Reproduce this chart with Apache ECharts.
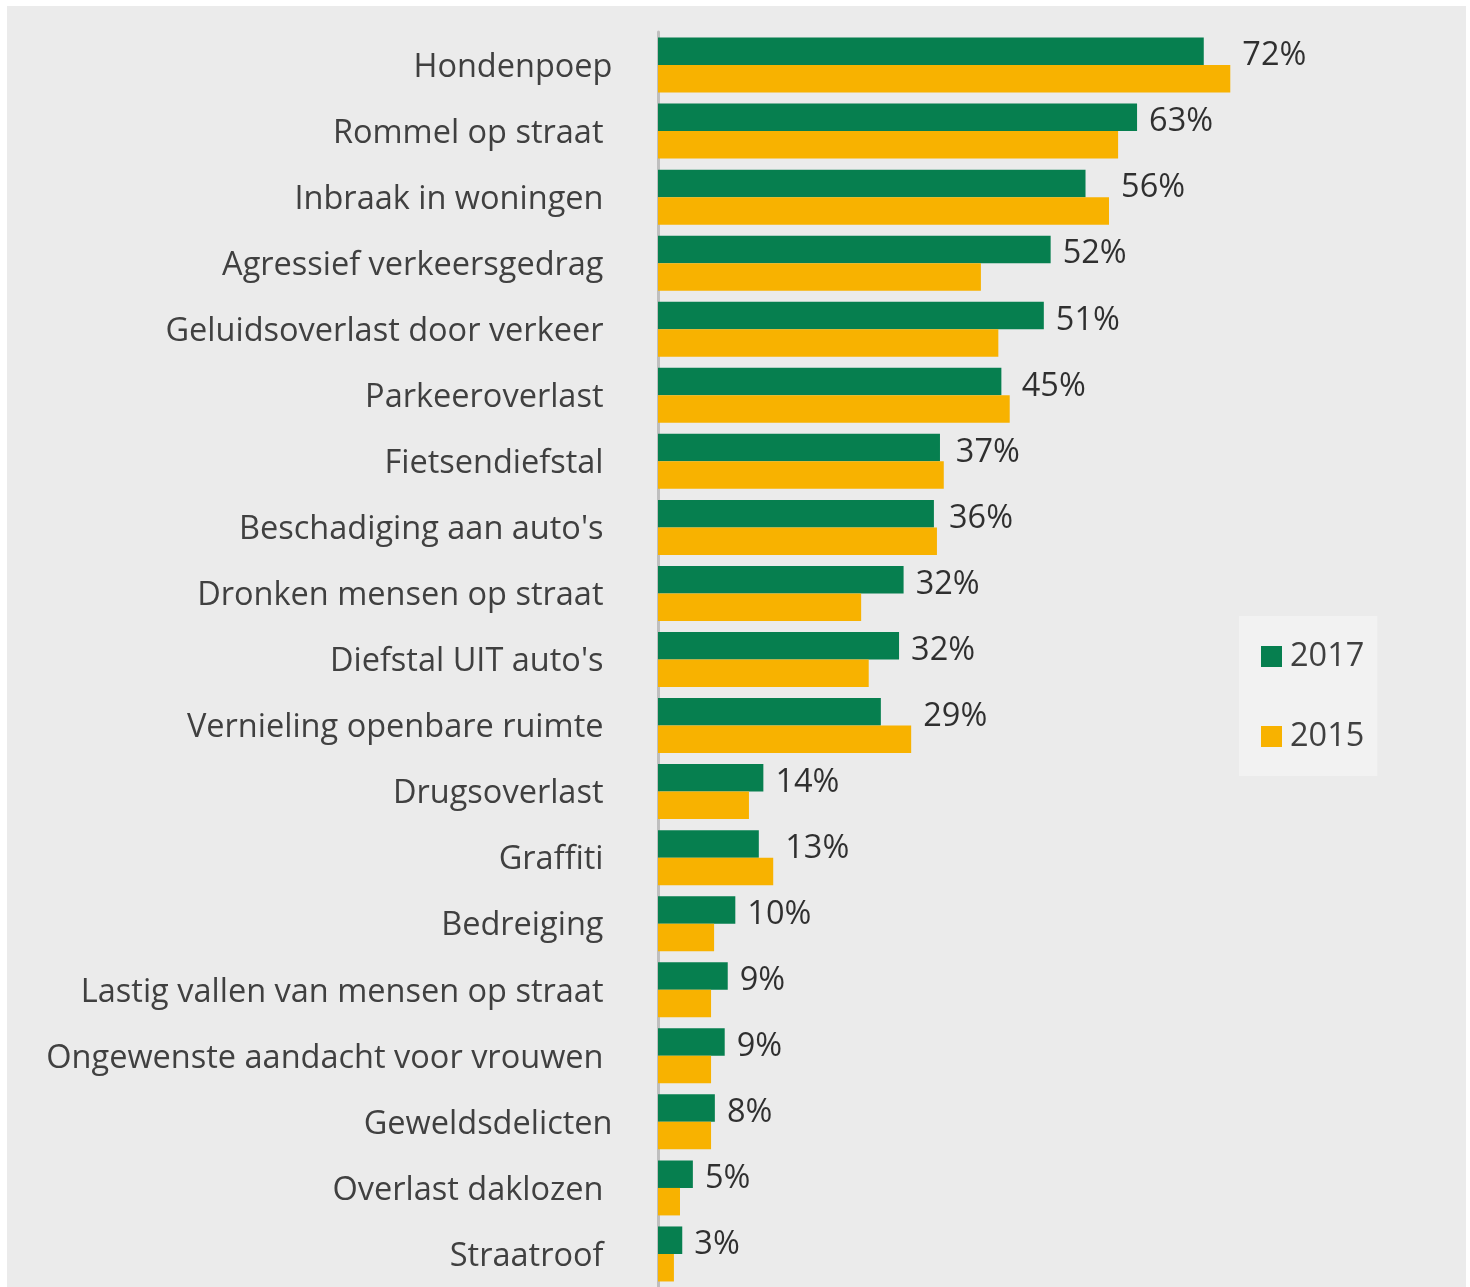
<!DOCTYPE html>
<html>
<head>
<meta charset="utf-8">
<script src="https://cdn.jsdelivr.net/npm/echarts@6/dist/echarts.min.js"></script>
<style>
html,body{margin:0;padding:0;background:#ffffff;}
#chart{width:1470px;height:1287px;}
</style>
</head>
<body>
<div id="chart"></div>
<script>
const categories = [
  'Hondenpoep','Rommel op straat','Inbraak in woningen','Agressief verkeersgedrag',
  'Geluidsoverlast door verkeer','Parkeeroverlast','Fietsendiefstal','Beschadiging aan auto\'s',
  'Dronken mensen op straat','Diefstal UIT auto\'s','Vernieling openbare ruimte','Drugsoverlast',
  'Graffiti','Bedreiging','Lastig vallen van mensen op straat','Ongewenste aandacht voor vrouwen',
  'Geweldsdelicten','Overlast daklozen','Straatroof'
];
const values2017 = [72.0, 63.2, 56.4, 51.8, 50.9, 45.3, 37.2, 36.4, 32.4, 31.8, 29.4, 13.9, 13.3, 10.2, 9.2, 8.8, 7.5, 4.6, 3.2];
const values2015 = [75.5, 60.7, 59.5, 42.6, 44.9, 46.4, 37.7, 36.8, 26.8, 27.8, 33.4, 12.0, 15.2, 7.4, 7.0, 7.0, 7.0, 2.9, 2.1];
const seriesNames = ['2017', '2015'];

const FONT = '"Open Sans", "Noto Sans", sans-serif';
const FS = 32.5;
const shiftedLabels = ['Hondenpoep', 'Geweldsdelicten'];

const chart = echarts.init(document.getElementById('chart'), null, {renderer: 'canvas'});
const labelAnchor = values2017.map((v, i) => [Math.max(v, values2015[i]), i]);

chart.setOption({
  backgroundColor: '#ffffff',
  animation: false,
  graphic: [{
    type: 'rect', z: -10, silent: true,
    shape: {x: 7, y: 6, width: 1459, height: 1281},
    style: {fill: '#ebebeb'}
  }],
  legend: {
    orient: 'vertical',
    left: 1239, top: 616,
    backgroundColor: '#f2f2f2',
    padding: [21, 13, 20, 22],
    itemWidth: 21, itemHeight: 21,
    itemGap: 41,
    icon: 'rect',
    data: seriesNames,
    textStyle: {fontFamily: FONT, fontSize: FS, color: '#404040', lineHeight: 36, padding: [3, 0, 0, 3]}
  },
  grid: {left: 658, top: 32, width: 758, height: 1256, containLabel: false},
  xAxis: {
    type: 'value', min: 0, max: 100, show: false
  },
  yAxis: {
    type: 'category', inverse: true, data: categories,
    offset: 1.5,
    axisLine: {show: true, lineStyle: {color: '#bfbfbf', width: 3}},
    axisTick: {show: false},
    axisLabel: {
      margin: 44,
      fontFamily: FONT, fontSize: FS, color: '#404040',
      formatter: v => shiftedLabels.includes(v) ? '{b|' + v + '}' : '{a|' + v + '}',
      rich: {
        a: {fontFamily: FONT, fontSize: FS, color: '#404040', padding: [5, 9, 0, 0]},
        b: {fontFamily: FONT, fontSize: FS, color: '#404040', padding: [5, 0, 0, 0]}
      }
    }
  },
  series: [
    {
      name: seriesNames[0], type: 'bar', data: values2017,
      barWidth: 27.5, barGap: '0%',
      itemStyle: {color: '#067f4f'}
    },
    {
      name: seriesNames[1], type: 'bar', data: values2015,
      barWidth: 27.5, barGap: '0%',
      itemStyle: {color: '#f8b200'}
    },
    {
      type: 'scatter', data: labelAnchor, symbolSize: 0.1, silent: true,
      itemStyle: {color: 'rgba(0,0,0,0)'},
      label: {
        show: true, position: 'right', distance: 12, offset: [0, -9],
        fontFamily: FONT, fontSize: FS, color: '#000000',
        formatter: p => Math.round(values2017[p.dataIndex]) + '%'
      }
    }
  ]
});
</script>
</body>
</html>
